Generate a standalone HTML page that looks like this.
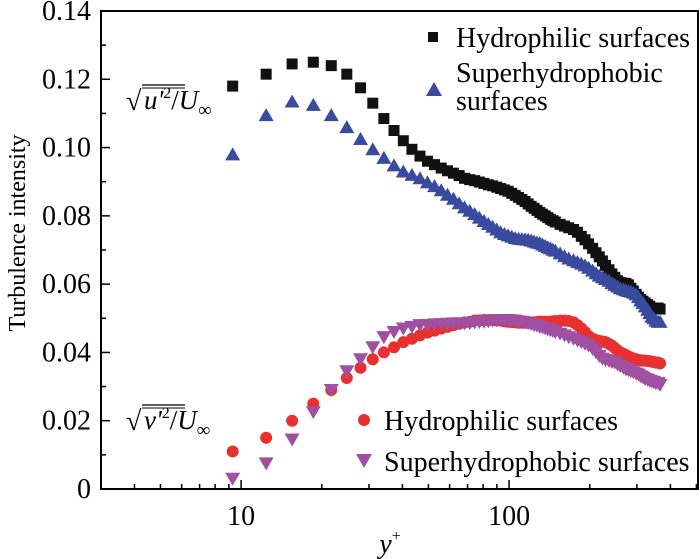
<!DOCTYPE html>
<html><head><meta charset="utf-8"><style>
html,body{margin:0;padding:0;background:#fff;}
svg{display:block;}
svg text{font-family:"Liberation Serif","Times New Roman",serif;}
</style></head><body>
<svg id="chart" width="700" height="559" viewBox="0 0 700 559" xmlns="http://www.w3.org/2000/svg" font-family="Liberation Serif, serif">
<g id="axes"></g>
<g id="marks"></g>
<text transform="translate(25,233) rotate(-90)" text-anchor="middle" font-size="24">Turbulence intensity</text>
<text x="390" y="553" text-anchor="middle" font-size="28" font-style="italic">y<tspan font-size="16" dy="-12" font-style="normal">+</tspan></text>
<g>
<text x="126" y="110" font-size="28">√</text>
<line x1="142" y1="85" x2="185" y2="85" stroke="#000" stroke-width="1.2"/>
<line x1="142" y1="88" x2="185" y2="88" stroke="#000" stroke-width="1"/>
<text x="144" y="109" font-size="27" font-style="italic">u'<tspan font-size="16" dy="-11" font-style="normal">2</tspan><tspan dy="11" font-style="normal">/</tspan>U<tspan font-size="19" dy="7" font-style="normal">∞</tspan></text>
</g>
<g>
<text x="126" y="430" font-size="28">√</text>
<line x1="142" y1="405" x2="185" y2="405" stroke="#000" stroke-width="1.2"/>
<line x1="142" y1="408" x2="185" y2="408" stroke="#000" stroke-width="1"/>
<text x="144" y="429" font-size="27" font-style="italic">v'<tspan font-size="16" dy="-11" font-style="normal">2</tspan><tspan dy="11" font-style="normal">/</tspan>U<tspan font-size="19" dy="7" font-style="normal">∞</tspan></text>
</g>
<g>
<rect x="428" y="32" width="10" height="10" fill="#111"/>
<text x="456" y="47" font-size="28">Hydrophilic surfaces</text>
<polygon points="434,82 442,96 426,96" fill="#3a4a9e"/>
<text x="456" y="82" font-size="28">Superhydrophobic</text>
<text x="456" y="110" font-size="28">surfaces</text>
</g>
<g>
<circle cx="364" cy="420" r="6" fill="#e83030"/>
<text x="384" y="430" font-size="28">Hydrophilic surfaces</text>
<polygon points="356,454 372,454 364,468" fill="#a050a0"/>
<text x="384" y="471" font-size="28">Superhydrophobic surfaces</text>
</g>
</svg>
<script>
const yPlusA = [9.3,12.4,15.5,18.6,21.7,24.8,27.9,31,34.1,37.2,40.3,43.4,46.5,49.6,52.7,55.8,58.9,62,65.1,68.2,71.3,74.4,77.5,80.6,83.7,86.8,89.9,93,96.1,99.2,102.3,105.4,108.5,111.6,114.7,117.8,120.9,124,127.1,130.2,133.3,136.4,139.5,142.6,145.7,148.8,155,161,167,174,180,186,192,198,205,211,217,223,229,236,242,248,254,260,267,273,279,285,291,298,304,310,316,322,329,335,341,347,353,360,366];
const uHydrophilic = [0.118,0.1215,0.1245,0.125,0.124,0.1215,0.1175,0.113,0.1085,0.105,0.102,0.0995,0.0975,0.096,0.095,0.094,0.0932,0.0925,0.0918,0.091,0.0906,0.0903,0.0899,0.0895,0.0891,0.0888,0.0884,0.088,0.0876,0.0872,0.0866,0.086,0.0854,0.0848,0.0842,0.0835,0.0828,0.0822,0.0816,0.081,0.0805,0.080,0.0795,0.079,0.0786,0.0782,0.0775,0.077,0.0765,0.076,0.0752,0.074,0.073,0.0718,0.0705,0.0692,0.068,0.0668,0.0655,0.0642,0.063,0.062,0.061,0.0605,0.0603,0.0602,0.0598,0.0588,0.058,0.057,0.0562,0.0555,0.055,0.0545,0.054,0.0535,0.053,0.053,0.053,0.053,0.0527];
const uSuperhydrophobic = [0.098,0.1095,0.1135,0.1125,0.1095,0.106,0.1025,0.0995,0.097,0.0948,0.093,0.092,0.091,0.0898,0.0887,0.0875,0.0862,0.085,0.0837,0.0825,0.0815,0.0805,0.0795,0.0785,0.0776,0.0768,0.076,0.0752,0.0747,0.0743,0.0739,0.0735,0.0733,0.0732,0.0731,0.073,0.0728,0.0725,0.0722,0.072,0.0716,0.0712,0.0708,0.0705,0.0701,0.0698,0.069,0.0682,0.0675,0.067,0.0665,0.066,0.0655,0.0648,0.064,0.0632,0.0625,0.062,0.0615,0.061,0.0603,0.0598,0.0593,0.0588,0.0585,0.0582,0.058,0.0578,0.0575,0.057,0.0562,0.0552,0.0545,0.0535,0.0525,0.0515,0.0505,0.05,0.0493,0.049,0.049];
const vHydrophilic = [0.011,0.015,0.020,0.025,0.029,0.0325,0.0355,0.038,0.040,0.0415,0.043,0.044,0.045,0.0458,0.0464,0.047,0.0475,0.048,0.0484,0.0488,0.049,0.0493,0.0494,0.0495,0.0495,0.0495,0.0494,0.0493,0.0491,0.049,0.0489,0.0488,0.0487,0.0487,0.0487,0.0487,0.0487,0.0488,0.0489,0.049,0.049,0.049,0.049,0.049,0.0491,0.0492,0.0493,0.0493,0.0492,0.0488,0.048,0.047,0.046,0.0448,0.044,0.0436,0.0434,0.0432,0.043,0.0425,0.042,0.0413,0.0406,0.040,0.0396,0.0392,0.0388,0.0385,0.0382,0.038,0.0378,0.0377,0.0376,0.0376,0.0375,0.0374,0.0373,0.0372,0.037,0.037,0.0368];
const vSuperhydrophobic = [0.003,0.0075,0.0145,0.0225,0.029,0.0345,0.038,0.0415,0.0445,0.046,0.047,0.0475,0.048,0.048,0.0482,0.0483,0.0484,0.0485,0.0485,0.0485,0.0486,0.0488,0.0489,0.049,0.0491,0.0493,0.0494,0.0495,0.0495,0.0495,0.0494,0.0493,0.0491,0.049,0.0488,0.0485,0.0483,0.048,0.0478,0.0475,0.0473,0.047,0.0468,0.0465,0.0463,0.046,0.0455,0.045,0.0445,0.044,0.0435,0.043,0.0425,0.042,0.041,0.040,0.039,0.0382,0.0378,0.0375,0.0372,0.037,0.0365,0.036,0.0355,0.035,0.0348,0.0345,0.0342,0.0338,0.0335,0.033,0.0327,0.0322,0.032,0.0317,0.0315,0.0313,0.031,0.031,0.0305];
const yTickValues = [0,0.02,0.04,0.06,0.08,0.10,0.12,0.14];
const yTickLabels = ["0","0.02","0.04","0.06","0.08","0.10","0.12","0.14"];
const xTickValues = [10,100];
const xTickLabels = ["10","100"];

const NS="http://www.w3.org/2000/svg";
const L=101,R=698,T=11,B=489;
const xMin=3.0,xMax=507;
const xs=v=>L+(Math.log10(v)-Math.log10(xMin))/(Math.log10(xMax)-Math.log10(xMin))*(R-L);
const ys=v=>B-v/0.14*(B-T);
function mk(tag,attrs,parent){const e=document.createElementNS(NS,tag);for(const k in attrs)e.setAttribute(k,attrs[k]);parent.appendChild(e);return e;}
const axes=document.getElementById('axes');
const frame=mk('rect',{x:L,y:T,width:R-L,height:B-T,fill:'none',stroke:'#000','stroke-width':2},axes);


yTickValues.forEach((v,i)=>{
  const y=ys(v);
  const t=mk('line',{x1:L,x2:L+9,y1:y,y2:y,stroke:'#000','stroke-width':1.5},axes);
  
  
  const lb=mk('text',{x:91,y:y+9,'text-anchor':'end','font-size':28},axes);
  lb.textContent=yTickLabels[i];
  
  
  if(i<yTickValues.length-1){
    const ym=ys(v+0.01);
    const m=mk('line',{x1:L,x2:L+5,y1:ym,y2:ym,stroke:'#000','stroke-width':1.5},axes);
    
    
  }
});
[4,5,6,7,8,9,20,30,40,50,60,70,80,90,200,300,400,500].forEach(v=>{
  const x=xs(v);
  const m=mk('line',{x1:x,x2:x,y1:B,y2:B-5,stroke:'#000','stroke-width':1.5},axes);
  
  
});
xTickValues.forEach((v,i)=>{
  const x=xs(v);
  const t=mk('line',{x1:x,x2:x,y1:B,y2:B-9,stroke:'#000','stroke-width':1.5},axes);
  
  
  const lb=mk('text',{x:x,y:525,'text-anchor':'middle','font-size':28},axes);
  lb.textContent=xTickLabels[i];
  
  
});
const marks=document.getElementById('marks');
function series(vals,kind,color,name){
  const g=mk('g',{},marks);
  
  
  vals.forEach((v,i)=>{
    const x=xs(yPlusA[i]),y=ys(v);let e;
    if(kind==='sq') e=mk('rect',{x:x-5.5,y:y-5.5,width:11,height:11,fill:color},g);
    else if(kind==='up') e=mk('polygon',{points:`${x},${y-7} ${x+7.5},${y+6} ${x-7.5},${y+6}`,fill:color},g);
    else if(kind==='dn') e=mk('polygon',{points:`${x-7.5},${y-6} ${x+7.5},${y-6} ${x},${y+7}`,fill:color},g);
    else e=mk('circle',{cx:x,cy:y,r:6,fill:color},g);
    
    
  });
}
series(vHydrophilic,'ci','#e83030','series-v-hydrophilic');
series(vSuperhydrophobic,'dn','#a050a0','series-v-superhydrophobic');
series(uHydrophilic,'sq','#111111','series-u-hydrophilic');
series(uSuperhydrophobic,'up','#3a4a9e','series-u-superhydrophobic');
</script>
</body></html>
